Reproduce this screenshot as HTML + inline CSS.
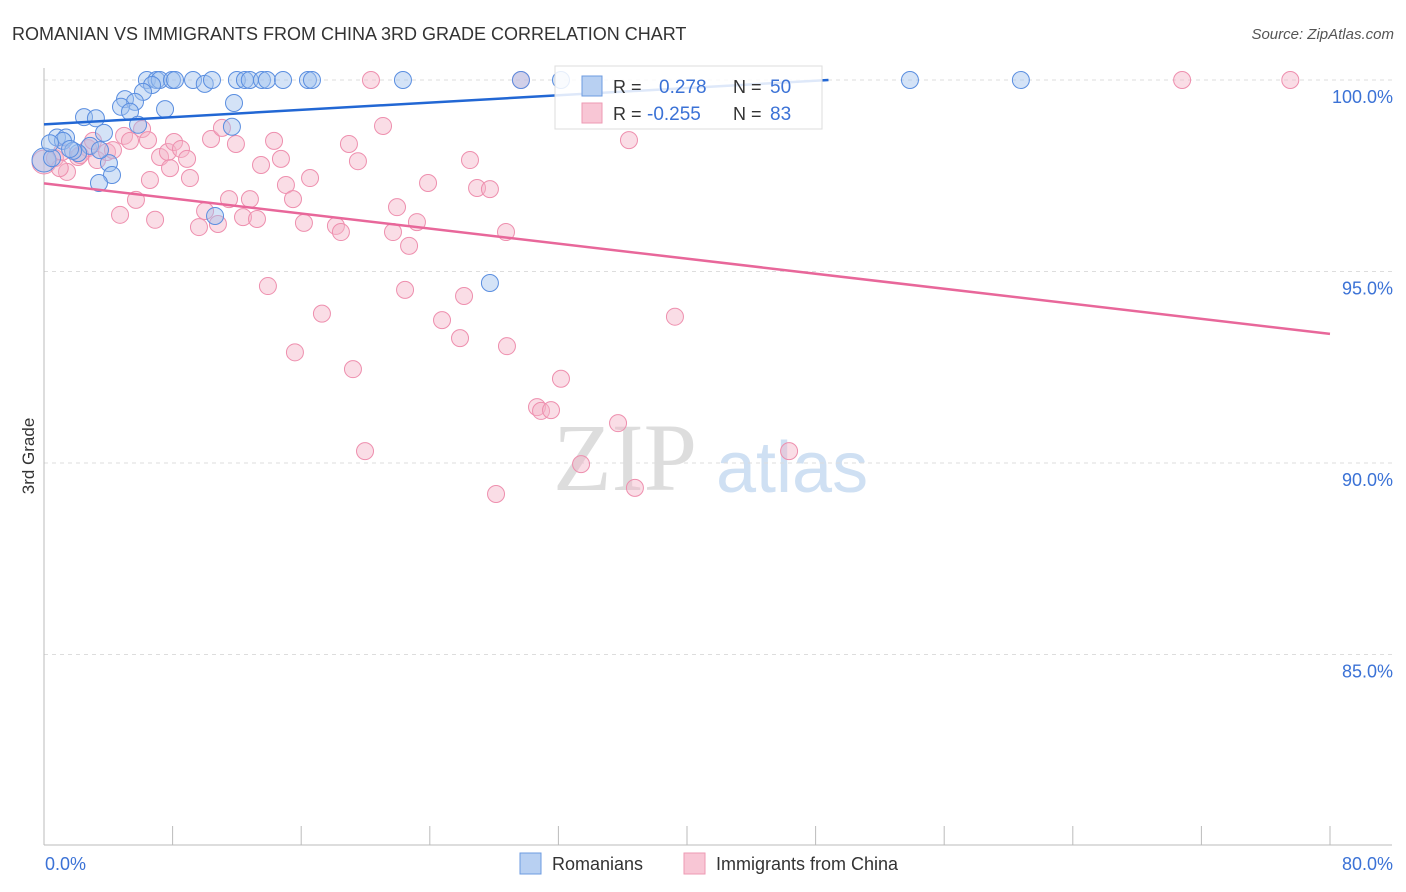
<!DOCTYPE html>
<html><head><meta charset="utf-8"><style>
body{margin:0;background:#fff;font-family:"Liberation Sans",sans-serif}
svg{display:block}
</style></head><body>
<svg width="1406" height="892" xmlns="http://www.w3.org/2000/svg" id="chart">
<text x="12" y="40" font-size="18" fill="#333">ROMANIAN VS IMMIGRANTS FROM CHINA 3RD GRADE CORRELATION CHART</text>
<text x="1394" y="39" font-size="15" fill="#555" font-style="italic" text-anchor="end">Source: ZipAtlas.com</text>
<text x="34" y="456" font-size="17" fill="#333" transform="rotate(-90 34 456)" text-anchor="middle">3rd Grade</text>
<g>
<text x="553" y="490" font-size="96" fill="#ddd" font-family="Liberation Serif,serif">ZIP</text>
<text x="716" y="492" font-size="72" fill="#cfe0f3">atlas</text>
</g>
<g id="grid"></g><g id="axes"></g><g id="pts"></g><g id="trend"></g>
<g>
<rect x="555" y="66" width="267" height="63" fill="#fff" fill-opacity="0.85" stroke="#ddd"/>
<rect x="582" y="76" width="20" height="20" fill="#b8d0f2" stroke="#6d9be0"/>
<rect x="582" y="103" width="20" height="20" fill="#f8c6d5" stroke="#ee9ab3"/>
<text x="613" y="93" font-size="18" fill="#333">R = </text><text x="659" y="93" font-size="19" fill="#3b72d6">0.278</text>
<text x="733" y="93" font-size="18" fill="#333">N = </text><text x="770" y="93" font-size="19" fill="#3b72d6">50</text>
<text x="613" y="120" font-size="18" fill="#333">R = </text><text x="647" y="120" font-size="19" fill="#3b72d6">-0.255</text>
<text x="733" y="120" font-size="18" fill="#333">N = </text><text x="770" y="120" font-size="19" fill="#3b72d6">83</text>
</g>
<g>
<rect x="520" y="853" width="21" height="21" fill="#b8d0f2" stroke="#6d9be0"/>
<text x="552" y="870" font-size="18" fill="#333">Romanians</text>
<rect x="684" y="853" width="21" height="21" fill="#f8c6d5" stroke="#ee9ab3"/>
<text x="716" y="870" font-size="18" fill="#333">Immigrants from China</text>
</g>
</svg>
<script>
const yTicks=[100,95,90,85];
const yTickLabels=["100.0%","95.0%","90.0%","85.0%"];
const xTickVals=[0,8,16,24,32,40,48,56,64,72,80];
const blueX=[6.4,7.0,7.2,7.96,8.15,9.27,10.0,10.45,12.0,12.5,12.8,13.56,13.87,14.87,16.42,16.67,22.33,29.67,32.16,53.87,60.77,6.72,6.16,5.04,5.66,4.79,5.35,7.53,11.82,5.85,11.69,2.49,3.23,0.81,1.37,1.18,3.73,2.86,2.12,1.81,4.04,4.23,3.42,10.64,27.74,0.0,0.5,3.48,0.37,1.62];
const blueY=[100,100,100,100,100,100,99.9,100,100,100,100,100,100,100,100,100,100,100,100,100,100,99.87,99.69,99.5,99.43,99.3,99.17,99.24,99.4,98.83,98.78,99.03,99.0,98.5,98.5,98.41,98.62,98.28,98.09,98.15,97.83,97.52,97.31,96.45,94.7,97.91,97.96,98.17,98.35,98.2];
const pinkX=[0,0.68,1.43,1.12,2.12,2.74,3.3,3.92,4.73,4.98,5.35,5.72,6.1,6.47,6.91,7.22,7.71,8.09,8.52,8.9,9.08,9.64,10.02,10.39,10.82,11.07,11.51,11.94,12.38,12.81,13.25,13.5,13.93,14.31,14.74,15.05,15.49,15.61,16.17,16.55,17.29,18.16,18.47,18.97,19.22,19.53,19.97,20.34,21.09,21.71,21.96,22.46,22.71,23.2,23.89,24.76,25.88,26.13,26.5,26.94,27.74,28.12,28.74,28.8,29.67,30.67,30.92,31.54,32.16,33.41,35.71,36.39,36.76,39.25,46.35,70.8,77.53,2.24,4.29,6.59,0.98,3.05,7.84];
const pinkY=[97.86,97.96,97.6,98.12,97.99,98.22,97.91,98.12,96.48,98.54,98.41,96.87,98.72,98.43,96.35,97.99,98.12,98.38,98.2,97.94,97.44,96.16,96.58,98.46,96.24,98.75,96.89,98.33,96.42,96.89,96.37,97.78,94.62,98.41,97.94,97.26,96.89,92.89,96.27,97.44,93.9,96.19,96.03,98.33,92.45,97.88,90.31,100,98.8,96.03,96.68,94.52,95.67,96.29,97.31,93.73,93.26,94.36,97.91,97.18,97.15,89.19,96.03,93.05,100,91.46,91.36,91.38,92.2,89.97,91.04,98.43,89.35,93.82,90.31,100,100,98.04,98.17,97.39,97.7,98.41,97.7];
const blueTrend=[[0,98.84],[48.8,100]];
const pinkTrend=[[0,97.3],[80,93.37]];
const X=v=>44+v*16.075, Y=v=>80+(100-v)*38.3;
const NS="http://www.w3.org/2000/svg";
function mk(p,t,a){const e=document.createElementNS(NS,t);for(const k in a)e.setAttribute(k,a[k]);p.appendChild(e);return e;}
const grid=document.getElementById('grid'),axes=document.getElementById('axes'),pts=document.getElementById('pts'),tr=document.getElementById('trend');
yTicks.forEach((v,i)=>{
 const l=mk(grid,'line',{x1:44,x2:1392,y1:Y(v),y2:Y(v),stroke:'#ddd','stroke-dasharray':'4 4'});
 
 
 const t=mk(grid,'text',{x:1393,y:Y(v)+23,'font-size':18,fill:'#3b72d6','text-anchor':'end'});
 t.textContent=yTickLabels[i];
 
 
});
let a=mk(axes,'line',{x1:44,x2:44,y1:68,y2:845,stroke:'#bbb'});


a=mk(axes,'line',{x1:44,x2:1392,y1:845,y2:845,stroke:'#bbb'});


xTickVals.forEach(v=>{const t=mk(axes,'line',{x1:X(v),x2:X(v),y1:826,y2:845,stroke:'#bbb'});
 
 });
let xl=mk(axes,'text',{x:45,y:870,'font-size':18,fill:'#3b72d6'});xl.textContent='0.0%';


xl=mk(axes,'text',{x:1393,y:870,'font-size':18,fill:'#3b72d6','text-anchor':'end'});xl.textContent='80.0%';


pinkX.forEach((v,i)=>{const c=mk(pts,'circle',{cx:X(v),cy:Y(pinkY[i]),r:i==0?12:8.5,fill:'#f5b3c8','fill-opacity':0.45,stroke:'#ee8fae','stroke-width':1});
 
 });
blueX.forEach((v,i)=>{const c=mk(pts,'circle',{cx:X(v),cy:Y(blueY[i]),r:i==45?12:8.5,fill:'#9fc0ee','fill-opacity':0.45,stroke:'#5a8ee0','stroke-width':1});
 
 });
let bl=mk(tr,'line',{x1:X(blueTrend[0][0]),y1:Y(blueTrend[0][1]),x2:X(blueTrend[1][0]),y2:Y(blueTrend[1][1]),stroke:'#2267d4','stroke-width':2.5});


let pl=mk(tr,'line',{x1:X(pinkTrend[0][0]),y1:Y(pinkTrend[0][1]),x2:X(pinkTrend[1][0]),y2:Y(pinkTrend[1][1]),stroke:'#e8679a','stroke-width':2.5});


</script>
</body></html>
